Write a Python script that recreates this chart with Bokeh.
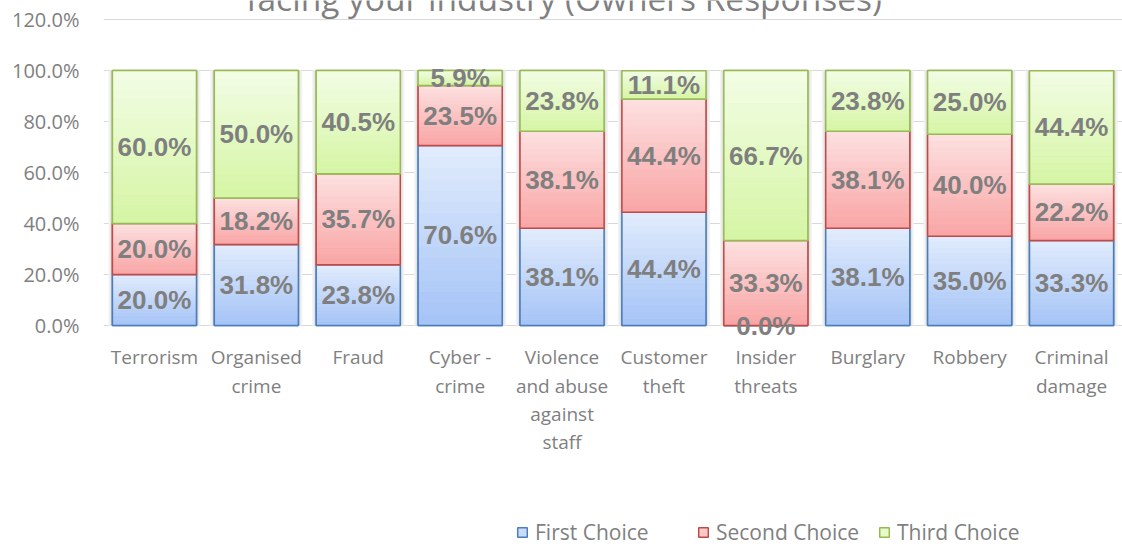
import numpy as np
from bokeh.plotting import figure
from bokeh.models import (ColumnDataSource, FixedTicker, PrintfTickFormatter,
                          Legend, LegendItem, Range1d, FactorRange)
from bokeh.core.properties import value
from bokeh.embed import file_html
from bokeh.resources import INLINE

# ---------------- data ----------------
categories = ["Terrorism", "Organised crime", "Fraud", "Cyber - crime",
              "Violence and abuse against staff", "Customer theft", "Insider threats",
              "Burglary", "Robbery", "Criminal damage"]
category_labels = ["Terrorism", "Organised\ncrime", "Fraud", "Cyber -\ncrime",
                   "Violence\nand abuse\nagainst\nstaff", "Customer\ntheft", "Insider\nthreats",
                   "Burglary", "Robbery", "Criminal\ndamage"]
first_choice = [20.0, 31.8, 23.8, 70.6, 38.1, 44.4, 0.0, 38.1, 35.0, 33.3]
second_choice = [20.0, 18.2, 35.7, 23.5, 38.1, 44.4, 33.3, 38.1, 40.0, 22.2]
third_choice = [60.0, 50.0, 40.5, 5.9, 23.8, 11.1, 66.7, 23.8, 25.0, 44.4]
series_names = ["First Choice", "Second Choice", "Third Choice"]
y_ticks = [0, 20, 40, 60, 80, 100, 120]
title_text = "facing your industry (Owners Responses)"

# ---------------- styles ----------------
GRAY = "#7f7f7f"
BAR_W = 0.825
N_STRIPS = 16
PX_PER_UNIT = 2.55
CAT_PX = 101.9
styles = [  # bottom colour, top colour, outline
    ("#a4c3f6", "#e2ecfd", "#4a7ebb"),
    ("#f9a4a4", "#fde1e1", "#be4b48"),
    ("#d5f5a4", "#f3fde5", "#98b954"),
]

def _rgb(h):
    h = h.lstrip("#")
    return np.array([int(h[i:i + 2], 16) for i in (0, 2, 4)], dtype=float)

def _mix(c0, c1, t):
    c = _rgb(c0) * (1 - t) + _rgb(c1) * t
    return "#%02x%02x%02x" % tuple(int(round(v)) for v in c)

H = 549
ZERO_PX = 325  # pixel row of the 0 % line
p = figure(width=1122, height=H, x_range=FactorRange(*categories),
           y_range=Range1d(-(H - ZERO_PX) / PX_PER_UNIT, ZERO_PX / PX_PER_UNIT),
           output_backend="svg", toolbar_location=None,
           min_border_left=103, min_border_right=0, min_border_top=0, min_border_bottom=0)
p.outline_line_color = None
p.background_fill_color = "white"

# grid / axes
p.xgrid.grid_line_color = None
p.ygrid.grid_line_color = "#d9d9d9"
p.ygrid.ticker = FixedTicker(ticks=y_ticks)
p.yaxis.ticker = FixedTicker(ticks=y_ticks)
p.yaxis.formatter = PrintfTickFormatter(format="%.1f%%")
p.yaxis.axis_line_color = None
p.yaxis.major_tick_line_color = None
p.yaxis.minor_tick_line_color = None
p.yaxis.major_label_text_font = "Open Sans"
p.yaxis.major_label_text_font_size = "20px"
p.yaxis.major_label_text_color = GRAY
p.yaxis.major_label_standoff = 18
p.xaxis.visible = False

# ---------------- bar shadows ----------------
totals = np.array(first_choice) + np.array(second_choice) + np.array(third_choice)
for extra_px, col in [(8, "#f3f3f3"), (5, "#e8e8e8"), (3, "#dcdcdc")]:
    p.vbar(x=categories, bottom=0, top=totals, width=BAR_W + extra_px / CAT_PX,
           fill_color=col, line_color=None)

# ---------------- bars ----------------
bottoms = np.zeros(len(categories))
legend_items = []
label_x, label_y, label_t = [], [], []
for name, vals, (cb, ct, lc) in zip(series_names, [first_choice, second_choice, third_choice], styles):
    vals = np.array(vals, dtype=float)
    tops = bottoms + vals
    base = p.vbar(x=categories, bottom=bottoms, top=tops, width=BAR_W,
                  fill_color=_mix(cb, ct, 0.6), line_color=lc, line_width=1.5)
    legend_items.append(LegendItem(label=name, renderers=[base]))
    sx, sb, st, sc = [], [], [], []
    for i, c in enumerate(categories):
        for k in range(N_STRIPS):
            sx.append(c)
            sb.append(bottoms[i] + vals[i] * k / N_STRIPS)
            st.append(bottoms[i] + vals[i] * (k + 1) / N_STRIPS)
            sc.append(_mix(cb, ct, (k + 0.5) / N_STRIPS))
    src = ColumnDataSource(dict(x=sx, bottom=sb, top=st, color=sc))
    p.vbar(x="x", bottom="bottom", top="top", width=BAR_W, fill_color="color",
           line_color="color", line_width=0.6, source=src)
    p.vbar(x=categories, bottom=bottoms, top=tops, width=BAR_W,
           fill_color=None, line_color=lc, line_width=1.5)
    for i, c in enumerate(categories):
        label_x.append(c)
        label_y.append(bottoms[i] + vals[i] / 2)
        label_t.append("%.1f%%" % vals[i])
    bottoms = tops

p.text(x=label_x, y=label_y, text=label_t, text_align="center", text_baseline="middle",
       text_font=value("Liberation Sans"), text_font_style="bold",
       text_font_size="26px", text_color=GRAY)

# category labels (multi-line, below the 0 line)
FIRST_LINE_PX = 31.7
LINE_PX = 28.3
cx, cy, ct_ = [], [], []
for c, lab in zip(categories, category_labels):
    for j, line in enumerate(lab.split("\n")):
        cx.append(c)
        cy.append(-(FIRST_LINE_PX + j * LINE_PX) / PX_PER_UNIT)
        ct_.append(line)
p.text(x=cx, y=cy, text=ct_, text_align="center", text_baseline="middle",
       text_font=value("Open Sans"), text_font_size="19px", text_color=GRAY)

# title (only the lower line of the original title is visible, cut at the top)
p.text(x=[4.52], y=[(ZERO_PX - 20.7) / PX_PER_UNIT], text=[title_text],
       text_font=value("Open Sans"), text_font_size="33.5px", text_color=GRAY,
       text_align="center", text_baseline="bottom")

legend = Legend(items=legend_items, orientation="horizontal", location=(413, 3),
                glyph_width=12, glyph_height=12, label_standoff=7, label_width=160,
                spacing=2, padding=0, margin=0, border_line_color=None,
                background_fill_alpha=0, label_text_font="Open Sans",
                label_text_font_size="21px", label_text_color=GRAY)
p.add_layout(legend, "center")

open("out.html", "w").write(file_html(p, INLINE))
